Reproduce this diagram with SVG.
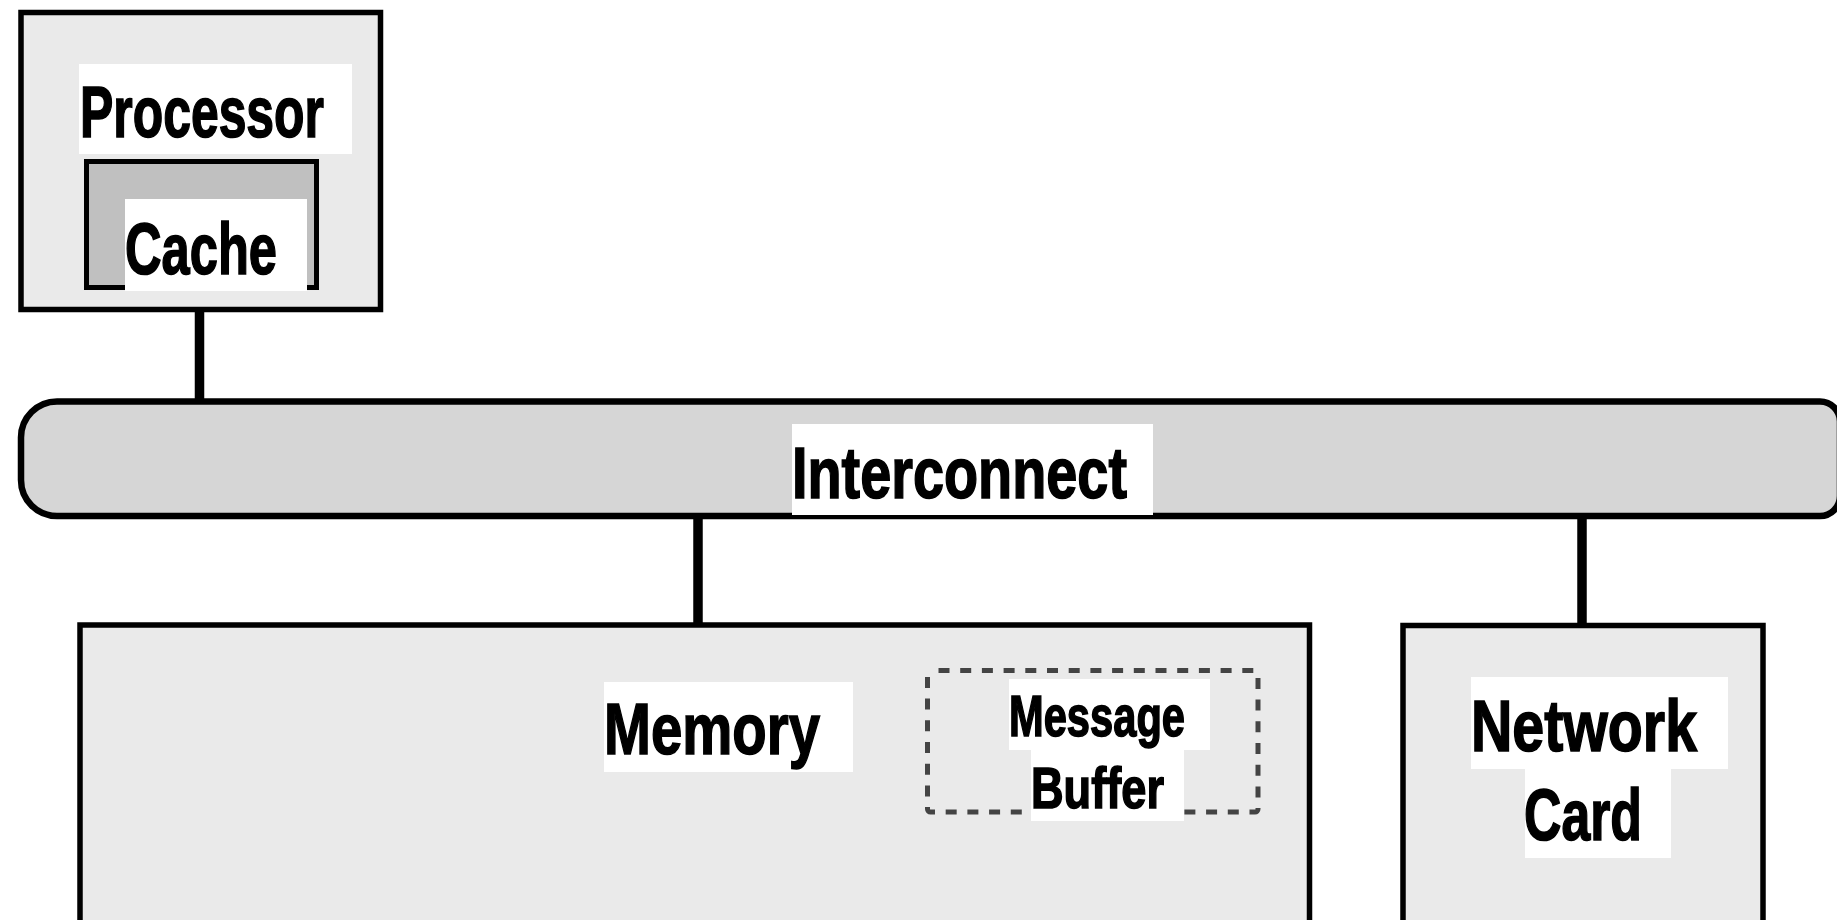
<svg xmlns="http://www.w3.org/2000/svg" width="1837" height="920" viewBox="0 0 1837 920">
  <style>
    .box { fill: #eaeaea; stroke: #000; stroke-width: 5.5; }
    .lbl { fill: #fff; stroke: none; }
    .t { font-family: "Liberation Sans", Arial, sans-serif; font-weight: bold; fill: #000; stroke: #000; stroke-width: 1.6; }
    .big { font-size: 73px; }
    .small { font-size: 57px; }
    .conn { stroke: #000; stroke-width: 9.5; fill: none; }
  </style>
  <rect width="1837" height="920" fill="#fff"/>
  <g id="connectors">
    <line class="conn" x1="199.5" y1="309" x2="199.5" y2="402"/>
    <line class="conn" x1="698" y1="515" x2="698" y2="626"/>
    <line class="conn" x1="1582" y1="515" x2="1582" y2="626"/>
  </g>
  <g id="processor">
    <rect class="box" x="21" y="12.5" width="359.5" height="297"/>
    <rect class="lbl" x="79" y="64" width="273" height="90"/>
    <text class="t big" x="80" y="137" textLength="244" lengthAdjust="spacingAndGlyphs">Processor</text>
  </g>
  <g id="cache">
    <rect x="86.5" y="161.5" width="230" height="126" fill="#c0c0c0" stroke="#000" stroke-width="5"/>
    <rect class="lbl" x="125" y="199" width="182" height="92"/>
    <text class="t big" x="125" y="274" textLength="152" lengthAdjust="spacingAndGlyphs">Cache</text>
  </g>
  <g id="interconnect">
    <path d="M57,401.5 H1820 A20,20 0 0 1 1840,421.5 V496 A20,20 0 0 1 1820,516 H57 A36,36 0 0 1 21,480 V437.5 A36,36 0 0 1 57,401.5 Z" fill="#d6d6d6" stroke="#000" stroke-width="6.5"/>
    <rect class="lbl" x="792" y="424" width="361" height="91"/>
    <text class="t big" x="792" y="498" textLength="335" lengthAdjust="spacingAndGlyphs">Interconnect</text>
  </g>
  <g id="memory">
    <rect class="box" x="80" y="625" width="1229.5" height="330"/>
    <rect class="lbl" x="604" y="682" width="249" height="90"/>
    <text class="t big" x="604" y="754" textLength="216" lengthAdjust="spacingAndGlyphs">Memory</text>
  </g>
  <g id="message-buffer">
    <rect x="927.5" y="670.5" width="330.5" height="141.5" rx="3" fill="none" stroke="#444" stroke-width="5" stroke-dasharray="11 10.7" stroke-dashoffset="-8"/>
    <rect class="lbl" x="1009" y="679" width="201" height="71"/>
    <rect class="lbl" x="1031" y="749" width="153" height="72"/>
    <text class="t small" x="1009" y="736" textLength="176" lengthAdjust="spacingAndGlyphs">Message</text>
    <text class="t small" x="1031" y="808" textLength="133" lengthAdjust="spacingAndGlyphs">Buffer</text>
  </g>
  <g id="network-card">
    <rect class="box" x="1403" y="625.5" width="360" height="330"/>
    <rect class="lbl" x="1471" y="677" width="257" height="92"/>
    <rect class="lbl" x="1525" y="768" width="146" height="90"/>
    <text class="t big" x="1471" y="751" textLength="226" lengthAdjust="spacingAndGlyphs">Network</text>
    <text class="t big" x="1524" y="840" textLength="118" lengthAdjust="spacingAndGlyphs">Card</text>
  </g>
</svg>
